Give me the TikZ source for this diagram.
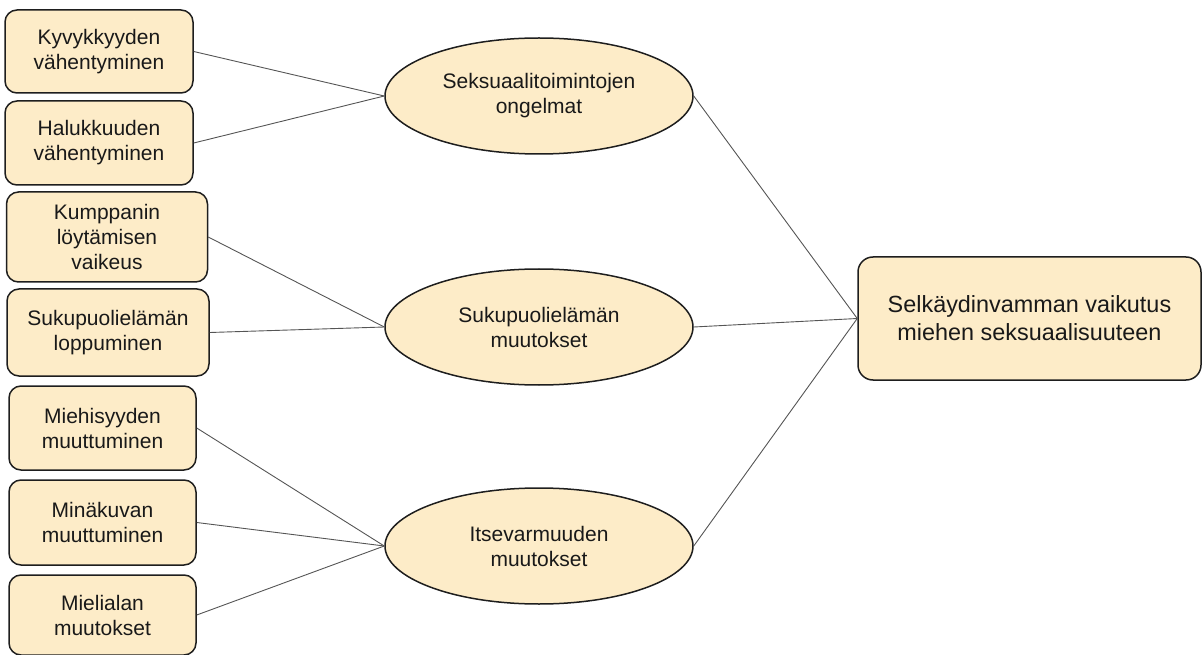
\documentclass[tikz,border=0pt]{standalone}
\usepackage{fontspec}
\setmainfont{Liberation Sans}
\usetikzlibrary{shapes.geometric}
\definecolor{boxfill}{RGB}{253,236,200}
\definecolor{edgecol}{RGB}{30,30,30}
\definecolor{linecol}{RGB}{85,85,85}
\definecolor{txt}{RGB}{25,25,25}
\begin{document}
\begin{tikzpicture}[x=1pt,y=-1pt,
  smallbox/.style={draw=edgecol, line width=1.5pt, fill=boxfill, rounded corners=12pt,
    inner sep=0pt, align=center, text=txt, font=\fontsize{21}{25}\selectfont},
  oval/.style={ellipse, draw=edgecol, line width=1.5pt, fill=boxfill, inner sep=0pt,
    minimum width=308pt, minimum height=116pt, align=center, text=txt,
    font=\fontsize{21}{25}\selectfont},
  bigbox/.style={draw=edgecol, line width=1.5pt, fill=boxfill, rounded corners=15pt,
    inner sep=0pt, align=center, text=txt, font=\fontsize{23.4}{28}\selectfont,
    minimum width=343pt, minimum height=123pt},
  conn/.style={draw=linecol, line width=0.9pt}]
\useasboundingbox (0,0) rectangle (1203,655);

\node[smallbox, minimum width=188pt, minimum height=83pt] (b1) at (99,51.5) {Kyvykkyyden\\vähentyminen};
\node[smallbox, minimum width=188pt, minimum height=84pt] (b2) at (99,143) {Halukkuuden\\vähentyminen};
\node[smallbox, minimum width=201pt, minimum height=90pt] (b3) at (107,237) {Kumppanin\\löytämisen\\vaikeus};
\node[smallbox, minimum width=202pt, minimum height=87pt] (b4) at (108,332.5) {Sukupuolielämän\\loppuminen};
\node[smallbox, minimum width=187pt, minimum height=84pt] (b5) at (102.5,428) {Miehisyyden\\muuttuminen};
\node[smallbox, minimum width=187pt, minimum height=85pt] (b6) at (102.5,522.5) {Minäkuvan\\muuttuminen};
\node[smallbox, minimum width=187pt, minimum height=80pt] (b7) at (102.5,615) {Mielialan\\muutokset};

\node[oval] (e1) at (539,96) {Seksuaalitoimintojen\\ongelmat};
\node[oval] (e2) at (539,327) {Sukupuolielämän\\muutokset};
\node[oval] (e3) at (539,546) {Itsevarmuuden\\muutokset};

\node[bigbox] (big) at (1029.5,318.5) {Selkäydinvamman vaikutus\\miehen seksuaalisuuteen};

\begin{scope}[on background layer/.style={}]
\end{scope}

\draw[conn] (b1.east) -- (e1.west);
\draw[conn] (b2.east) -- (e1.west);
\draw[conn] (b3.east) -- (e2.west);
\draw[conn] (b4.east) -- (e2.west);
\draw[conn] (b5.east) -- (e3.west);
\draw[conn] (b6.east) -- (e3.west);
\draw[conn] (b7.east) -- (e3.west);
\draw[conn] (e1.east) -- (big.west);
\draw[conn] (e2.east) -- (big.west);
\draw[conn] (e3.east) -- (big.west);
\end{tikzpicture}
\end{document}
